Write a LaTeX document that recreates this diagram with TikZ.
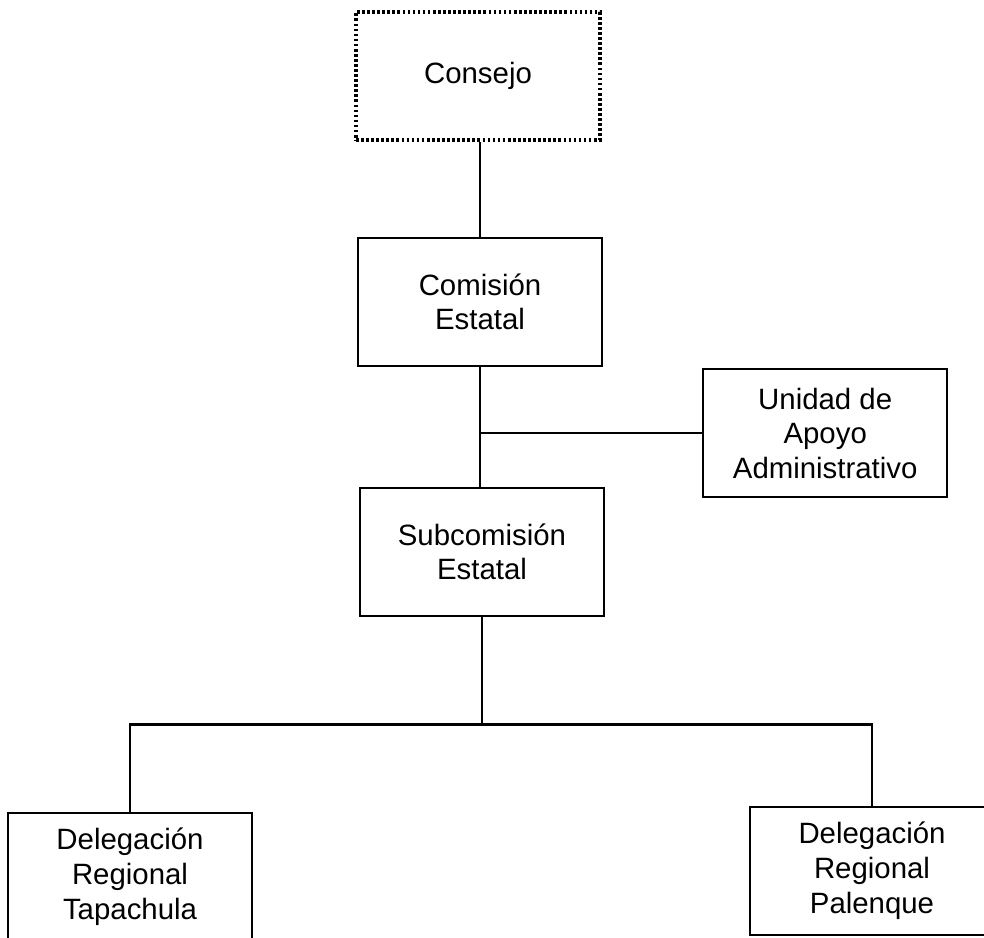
\documentclass[tikz,border=0pt]{standalone}
\usepackage{fontspec}
\setmainfont{Liberation Sans}
\usepackage{tikz}
\usetikzlibrary{positioning,calc}

\begin{document}
\begin{tikzpicture}[
    font=\fontsize{20.9}{24.6}\selectfont,
    box/.style={rectangle, draw, line width=1.7pt, minimum width=6.1cm, minimum height=3.2cm, align=center, fill=white},
    dotbox/.style={box, line width=2.3pt, dash pattern=on 1.9pt off 1.7pt},
    link/.style={line width=1.7pt}
]
    \useasboundingbox (0,0) rectangle (24.6,23.45);

    % --- Main chain ---
    \node[dotbox] (consejo) at (11.95, 21.55) {Consejo};
    \node[box] (comision) at (12.0, 15.9) {Comisi\'on\\Estatal};
    \node[box] (subcom) at (12.05, 9.65) {Subcomisi\'on\\Estatal};

    % --- Staff unit ---
    \node[box] (apoyo) at (20.63, 12.62) {Unidad de\\Apoyo\\Administrativo};

    % --- Regional delegations ---
    \node[box] (tapachula) at (3.25, 1.53) {Delegaci\'on\\Regional\\Tapachula};
    \node[box] (palenque) at (21.8, 1.68) {Delegaci\'on\\Regional\\Palenque};

    % Connectors (spine kept vertical)
    \draw[link] (comision.north) -- (comision.north |- consejo.south);
    \draw[link] (comision.south) -- (comision.south |- subcom.north);
    \draw[link] (apoyo.west) -- (apoyo.west -| comision.south);

    \coordinate (split) at ($(subcom.south)+(0,-2.68)$);
    \draw[link] (subcom.south) -- (split);
    \draw[link] (tapachula.north) -- (tapachula.north |- split) -- (palenque.north |- split) -- (palenque.north);

\end{tikzpicture}
\end{document}
